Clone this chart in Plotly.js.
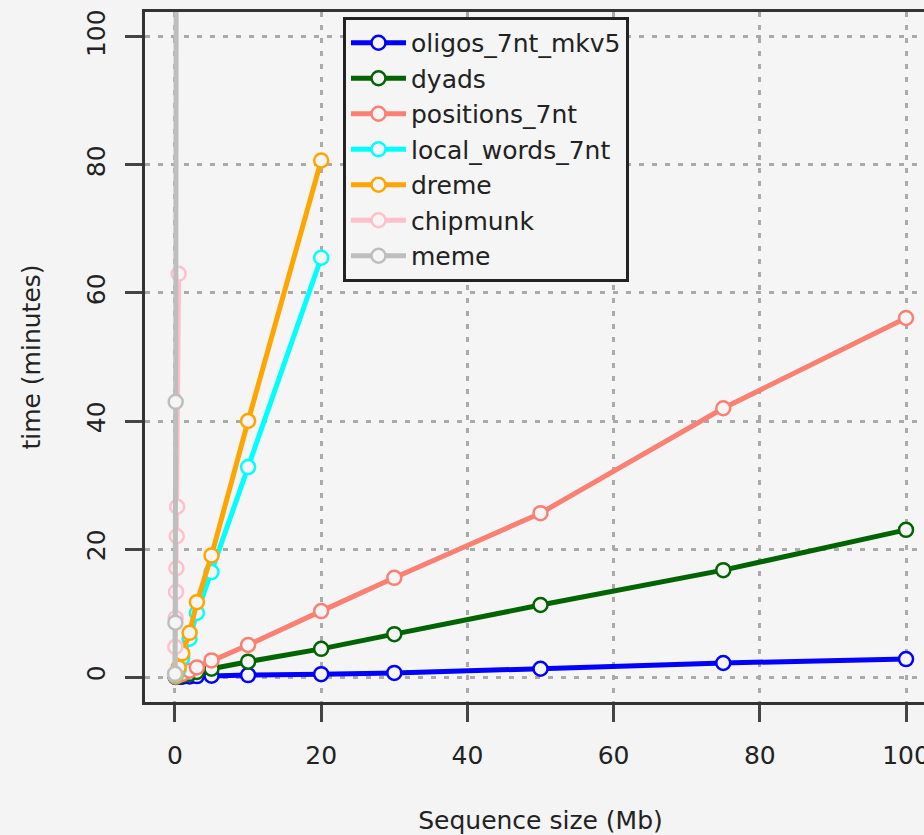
<!DOCTYPE html>
<html>
<head>
<meta charset="utf-8">
<script src="https://cdn.plot.ly/plotly-3.0.1.min.js"></script>
<style>
html, body { margin: 0; padding: 0; overflow: hidden; background: #f4f4f4; }
#chart { width: 990px; height: 835px; }
</style>
</head>
<body>
<div id="chart"></div>
<script>
// Sequence sizes (Mb)
const sizesLong = [0.1, 0.5, 1, 2, 3, 5, 10, 20, 30, 50, 75, 100];
const sizesShort = [0.1, 0.5, 1, 2, 3, 5, 10, 20];
const sizesChipmunk = [0.01, 0.05, 0.1, 0.15, 0.2, 0.25, 0.3, 0.5];
const sizesMeme = [0.01, 0.05, 0.1, 0.2];

// Time (minutes)
const oligos = [0.01, 0.03, 0.05, 0.1, 0.15, 0.2, 0.3, 0.45, 0.65, 1.3, 2.2, 2.8];
const dyads = [0.03, 0.15, 0.3, 0.5, 0.8, 1.3, 2.4, 4.4, 6.7, 11.25, 16.7, 23];
const positions = [0.05, 0.3, 0.5, 1.0, 1.5, 2.6, 5, 10.3, 15.5, 25.6, 42, 56.1];
const localWords = [0.2, 1.2, 3, 6, 10, 16.4, 32.8, 65.5];
const dreme = [0.3, 1.5, 3.7, 6.9, 11.7, 19, 40, 80.7];
const chipmunk = [0.5, 4.7, 9.2, 13.3, 17, 22, 26.6, 63];
const meme = [0.5, 8.5, 43, 150];

const seriesNames = ["oligos_7nt_mkv5", "dyads", "positions_7nt", "local_words_7nt", "dreme", "chipmunk", "meme"];
const seriesX = [sizesLong, sizesLong, sizesLong, sizesShort, sizesShort, sizesChipmunk, sizesMeme];
const seriesY = [oligos, dyads, positions, localWords, dreme, chipmunk, meme];
const seriesColors = ["#0000ff", "#006400", "#fa8072", "#00ffff", "#ffa500", "#ffc0cb", "#bebebe"];

const bg = "#f5f5f5";
const traces = seriesNames.map((name, i) => ({
  type: "scatter",
  mode: "lines+markers",
  name: name,
  x: seriesX[i],
  y: seriesY[i],
  cliponaxis: true,
  line: { color: seriesColors[i], width: 5 },
  marker: { symbol: "circle", size: 14, color: bg, line: { color: seriesColors[i], width: 2.5 } }
}));

const font = "DejaVu Sans, Liberation Sans, Arial, sans-serif";
const layout = {
  width: 990,
  height: 835,
  margin: { l: 145, r: 54, t: 12, b: 133 },
  paper_bgcolor: "#f4f4f4",
  plot_bgcolor: bg,
  font: { family: font, size: 25, color: "#222" },
  showlegend: true,
  legend: {
    x: 0.2503, y: 0.9928, xanchor: "left", yanchor: "top",
    bgcolor: bg, bordercolor: "#222", borderwidth: 3,
    font: { family: font, size: 25, color: "#222" },
    itemwidth: 55, tracegroupgap: 0
  },
  xaxis: {
    range: [-4.1, 104.1],
    tickvals: [0, 20, 40, 60, 80, 100],
    ticktext: ["0", "20", "40", "60", "80", "100"],
    ticks: "outside", ticklen: 17, tickwidth: 3, tickcolor: "#444",
    ticklabelstandoff: 12,
    showline: true, mirror: true, linecolor: "#333", linewidth: 3,
    showgrid: true, gridcolor: "#aaaaaa", gridwidth: 3, griddash: "5px,8px",
    zeroline: false,
    title: { text: "Sequence size (Mb)", standoff: 43, font: { family: font, size: 25, color: "#222" } },
    automargin: false
  },
  yaxis: {
    range: [-3.9, 103.9],
    tickvals: [0, 20, 40, 60, 80, 100],
    ticktext: ["0", "20", "40", "60", "80", "100"],
    tickangle: -90,
    ticks: "outside", ticklen: 17, tickwidth: 3, tickcolor: "#444",
    ticklabelstandoff: 10,
    showline: true, mirror: true, linecolor: "#333", linewidth: 3,
    showgrid: true, gridcolor: "#aaaaaa", gridwidth: 3, griddash: "5px,8px",
    zeroline: false,
    title: { text: "time (minutes)", standoff: 35, font: { family: font, size: 25, color: "#222" } },
    automargin: false
  }
};

Plotly.newPlot("chart", traces, layout, { displayModeBar: false, staticPlot: true });
</script>
</body>
</html>
